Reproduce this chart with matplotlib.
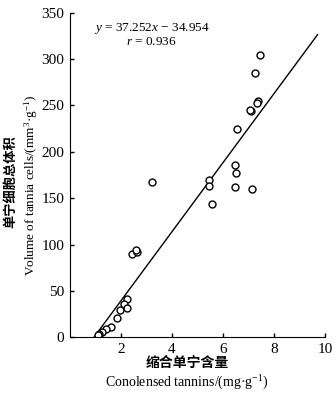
import numpy as np
import matplotlib.pyplot as plt

# condensed tannins (mg/g) vs volume of tannin cells (mm3/g)
tannin = [3.21, 5.46, 5.44, 6.55, 6.46, 6.50, 6.46, 7.14, 7.08, 7.06, 7.35, 7.33,
          7.23, 7.43, 5.55, 2.43, 2.62, 2.60, 2.25, 2.10, 2.23, 1.95, 1.84, 1.62,
          1.41, 1.26, 1.15, 1.10]
volume = [167.6, 169.7, 163.6, 225.0, 186.2, 177.6, 161.9, 160.0, 244.4, 245.5,
          254.5, 252.5, 284.7, 304.4, 143.5, 89.6, 92.5, 94.0, 41.2, 35.8, 31.5,
          29.6, 21.3, 11.0, 8.8, 5.6, 3.4, 2.4]
slope = 37.252
intercept = -34.954
r_value = 0.936

plt.rcParams['font.family'] = ['Liberation Serif', 'Noto Sans CJK SC']
plt.rcParams['mathtext.fontset'] = 'custom'
plt.rcParams['mathtext.it'] = 'Liberation Serif:italic'
plt.rcParams['mathtext.rm'] = 'Liberation Serif'

fig = plt.figure(figsize=(3.36, 3.97), dpi=100)
ax = fig.add_axes([0.208, 0.150, 0.760, 0.818])

xs = np.linspace(-intercept / slope, 9.7, 50)
ax.plot(xs, slope * xs + intercept, color='black', lw=1.0)
ax.plot(tannin, volume, 'o', mfc='white', mec='black', ms=5, mew=1.0)

ax.set_xlim(0, 10)
ax.set_ylim(0, 350)
ax.set_xticks([2, 4, 6, 8, 10])
ax.set_yticks(range(0, 351, 50))
ax.spines['top'].set_visible(False)
ax.spines['right'].set_visible(False)
ax.tick_params(direction='in', length=3, width=1, labelsize=11, pad=4)

ax.text(3.2, 333, '$y$ = 37.252$x$ \u2212 34.954', ha='center', va='center', fontsize=9.5)
ax.text(3.2, 318, '$r$ = 0.936', ha='center', va='center', fontsize=9.5)

fig.text(0.557, 0.086, '缩合单宁含量', ha='center', va='center', fontsize=10,
         family='Noto Sans CJK SC', weight='bold')
fig.text(0.557, 0.035, 'Conolensed tannins/(mg\u00b7g$^{-1}$)', ha='center', va='center',
         fontsize=10)
fig.text(0.031, 0.542, '单宁细胞总体积', ha='center', va='center', fontsize=9.5,
         family='Noto Sans CJK SC', weight='bold', rotation=90)
fig.text(0.094, 0.534, 'Volume of tannia cells/(mm$^{3}$\u00b7g$^{-1}$)', ha='center',
         va='center', fontsize=9.5, rotation=90)

fig.savefig('out.png', dpi=100)
